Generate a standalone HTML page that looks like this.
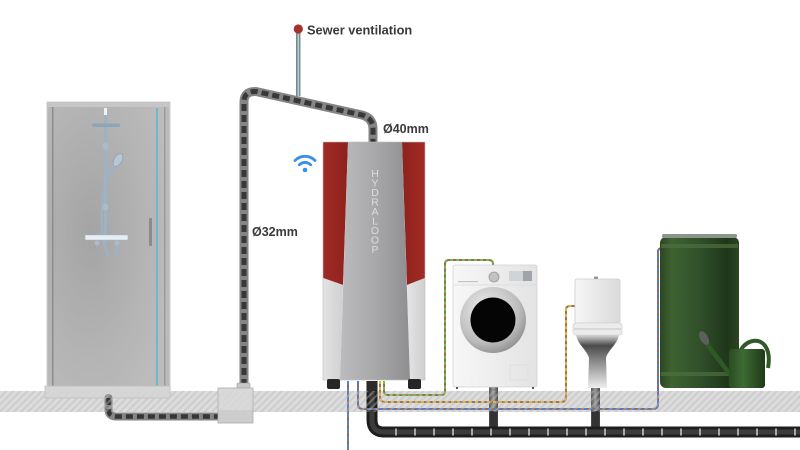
<!DOCTYPE html>
<html><head><meta charset="utf-8"><style>
html,body{margin:0;padding:0;background:#fff;}
svg{display:block;}
text{font-family:"Liberation Sans",sans-serif;}
</style></head><body>
<svg width="800" height="450" viewBox="0 0 800 450" xmlns="http://www.w3.org/2000/svg">
<defs>
<pattern id="hatch" width="5" height="5" patternUnits="userSpaceOnUse" patternTransform="rotate(45)">
<rect width="5" height="5" fill="#dcdcdc"/><rect width="2" height="5" fill="#cccccc"/>
</pattern>
<pattern id="hatch2" width="5" height="5" patternUnits="userSpaceOnUse" patternTransform="rotate(45)">
<rect width="2" height="5" fill="#d0d0d0"/>
</pattern>
<linearGradient id="silver" x1="0" x2="1" y1="0" y2="0">
<stop offset="0" stop-color="#bcbcbe"/><stop offset="0.5" stop-color="#a8a8aa"/><stop offset="1" stop-color="#8e8e90"/>
</linearGradient>
<linearGradient id="redL" x1="0" x2="1"><stop offset="0" stop-color="#a22a24"/><stop offset="1" stop-color="#8e211d"/></linearGradient>
<linearGradient id="redR" x1="0" x2="1"><stop offset="0" stop-color="#8e221e"/><stop offset="1" stop-color="#a32b25"/></linearGradient>
<linearGradient id="panelL" x1="0" x2="1"><stop offset="0" stop-color="#e4e4e4"/><stop offset="1" stop-color="#cfcfcf"/></linearGradient>
<radialGradient id="showerG" cx="0.35" cy="0.45" r="0.7">
<stop offset="0" stop-color="#a4a4a4"/><stop offset="0.6" stop-color="#b3b3b3"/><stop offset="1" stop-color="#bcbcbc"/>
</radialGradient>
<linearGradient id="green" x1="0" x2="1">
<stop offset="0" stop-color="#2b4622"/><stop offset="0.15" stop-color="#3e6231"/><stop offset="0.5" stop-color="#30502a"/><stop offset="0.85" stop-color="#1f361a"/><stop offset="1" stop-color="#2c4524"/>
</linearGradient>
<linearGradient id="canG" x1="0" x2="1">
<stop offset="0" stop-color="#2a4d22"/><stop offset="0.4" stop-color="#3d6a33"/><stop offset="1" stop-color="#1e3a18"/>
</linearGradient>
<linearGradient id="washG" x1="0" x2="1">
<stop offset="0" stop-color="#f7f7f7"/><stop offset="1" stop-color="#e3e3e3"/>
</linearGradient>
<radialGradient id="drumG" cx="0.4" cy="0.35" r="0.7">
<stop offset="0" stop-color="#f0f0f0"/><stop offset="0.7" stop-color="#bdbdbd"/><stop offset="1" stop-color="#8e8e8e"/>
</radialGradient>
<linearGradient id="tankG" x1="0" x2="1">
<stop offset="0" stop-color="#f6f6f6"/><stop offset="1" stop-color="#dadada"/>
</linearGradient>
<linearGradient id="bowlG" x1="0" x2="0" y1="0" y2="1">
<stop offset="0" stop-color="#d8d8d8"/><stop offset="0.2" stop-color="#4a4a4a"/><stop offset="0.5" stop-color="#8a8a8a"/><stop offset="1" stop-color="#eeeeee"/>
</linearGradient>
<linearGradient id="drainG" x1="0" x2="1">
<stop offset="0" stop-color="#5a5a5a"/><stop offset="0.5" stop-color="#9a9a9a"/><stop offset="1" stop-color="#4a4a4a"/>
</linearGradient>
</defs>

<!-- floor band -->
<rect x="0" y="391" width="800" height="21" fill="url(#hatch)"/>

<!-- shower -->
<rect x="47" y="102" width="123" height="288" fill="url(#showerG)" stroke="#cfcfcf" stroke-width="1"/>
<rect x="48" y="102" width="121" height="5" fill="#c6c6c6"/>
<rect x="52" y="107" width="1.5" height="280" fill="#8c8c8c"/>
<rect x="164" y="107" width="1.5" height="280" fill="#9a9a9a"/>
<line x1="157" y1="108" x2="157" y2="388" stroke="#5fb7c9" stroke-width="1.6"/>
<line x1="105.5" y1="110" x2="105.5" y2="243" stroke="#9cb2c6" stroke-width="3"/>
<rect x="104" y="108" width="3" height="7" fill="#eef3f8"/>
<rect x="92" y="123.5" width="28" height="3.5" rx="1.7" fill="#8ea5b9"/>
<ellipse cx="105.5" cy="146" rx="3" ry="3.5" fill="#a9bccd"/>
<ellipse cx="105.5" cy="207" rx="3" ry="3.5" fill="#a9bccd"/>
<ellipse cx="118" cy="160" rx="4" ry="7" transform="rotate(30 118 160)" fill="#b6c7d6" stroke="#8ea3b6" stroke-width="0.8"/>
<line x1="115" y1="166" x2="107" y2="178" stroke="#9cb2c6" stroke-width="3"/>
<path d="M107,178 C99,200 100,250 110,256 C118,259 118,250 116,240" fill="none" stroke="#9cb2c6" stroke-width="2"/>
<rect x="85" y="235" width="43" height="5" rx="1" fill="#e8eef4" stroke="#a9b6c3" stroke-width="0.6"/>
<circle cx="97" cy="243" r="2.5" fill="#a9bccd"/>
<circle cx="117" cy="243" r="2.5" fill="#a9bccd"/>
<rect x="149" y="218" width="3" height="28" rx="1" fill="#8a8a8a"/>
<rect x="45" y="386" width="125" height="12" fill="#d6d6d6" stroke="#bdbdbd" stroke-width="0.8"/>

<!-- shower drain -->
<path d="M108.5,398 L108.5,409 Q108.5,416.5 116,416.5 L219,416.5" fill="none" stroke="#858585" stroke-width="8" stroke-linecap="round"/>
<path d="M108.5,398 L108.5,409 Q108.5,416.5 116,416.5 L219,416.5" fill="none" stroke="#353535" stroke-width="4.5" stroke-dasharray="7 4"/>

<!-- vertical / top pipe -->
<path d="M244,386 L244,102 Q244,91 256,91.5 L362,115 Q373,118 373,129 L373,143" fill="none" stroke="#858585" stroke-width="9" stroke-linejoin="round"/>
<path d="M244,386 L244,102 Q244,91 256,91.5 L362,115 Q373,118 373,129 L373,143" fill="none" stroke="#383838" stroke-width="5" stroke-dasharray="7 4" stroke-linejoin="round"/>

<!-- vent -->
<rect x="296" y="30" width="4.5" height="66" fill="#7b898d"/>
<rect x="297.6" y="30" width="1.5" height="66" fill="#b3d2d6"/>
<circle cx="298.3" cy="29" r="4.6" fill="#a7302b"/>

<!-- trap box -->
<rect x="237" y="383" width="13" height="6" rx="1" fill="#c8c8c8" stroke="#999" stroke-width="0.6"/>
<rect x="218" y="388" width="35" height="35" fill="#d9d9d9" stroke="#a8a8a8" stroke-width="0.8"/>
<rect x="218.5" y="410" width="34" height="12.5" fill="#cdcdcd"/>

<!-- wifi -->
<g fill="none" stroke="#3a8fe6" stroke-width="2.8" stroke-linecap="round">
<path d="M295,160.5 A14,14 0 0 1 315,160.5"/>
<path d="M299.3,164.8 A8,8 0 0 1 310.7,164.8"/>
</g>
<circle cx="305" cy="170" r="2.3" fill="#3a8fe6"/>

<!-- HYDRALOOP unit -->
<polygon points="323,142 348,142 343,285 323,278" fill="url(#redL)"/>
<polygon points="323,278 343,285 340,380 323,380" fill="url(#panelL)"/>
<polygon points="402,142 425,142 425,278 407,285" fill="url(#redR)"/>
<polygon points="407,285 425,278 425,380 410,380" fill="url(#panelL)"/>
<polygon points="348,142 402,142 410,380 340,380" fill="url(#silver)"/>
<rect x="323" y="142" width="102" height="238" fill="none" stroke="#bdbdbd" stroke-width="0.6"/>
<rect x="327" y="379" width="13" height="10" rx="2" fill="#262626"/>
<rect x="408" y="379" width="13" height="10" rx="2" fill="#262626"/>
<g fill="#dcdcdc" font-size="10.5" text-anchor="middle">
<text x="375" y="177">H</text><text x="375" y="186.5">Y</text><text x="375" y="196">D</text>
<text x="375" y="205.5">R</text><text x="375" y="215">A</text><text x="375" y="224.5">L</text>
<text x="375" y="234">O</text><text x="375" y="243.5">O</text><text x="375" y="253">P</text>
</g>

<!-- drains from washer/toilet -->
<rect x="489" y="387" width="9" height="42" fill="url(#drainG)"/>
<rect x="489.5" y="411" width="8" height="18" rx="2" fill="#333"/>
<rect x="591" y="387" width="9" height="42" fill="url(#drainG)"/>
<rect x="591.5" y="411" width="8" height="18" rx="2" fill="#333"/>

<!-- main bottom pipe -->
<path d="M372,381 L372,420 Q372,432 384,432 L800,432" fill="none" stroke="#1e1e1e" stroke-width="11"/>
<path d="M372,381 L372,420 Q372,432 384,432 L800,432" fill="none" stroke="#3c3c3c" stroke-width="5"/>
<line x1="395" y1="432" x2="800" y2="432" stroke="#a8a8a8" stroke-width="7" stroke-dasharray="2 17"/>
<rect x="367" y="381" width="10" height="12" fill="#2a2a2a"/>

<!-- wires -->
<g fill="none" stroke-width="2">
<path d="M348,381 L348,450" stroke="#9a6a50"/>
<path d="M348,381 L348,450" stroke="#4a86e0" stroke-dasharray="4 4"/>
<path d="M358,381 L358,404 Q358,409 363,409 L653,409 Q658,409 658,404 L658,252 Q658,248 662,248" stroke="#9a6a50"/>
<path d="M358,381 L358,404 Q358,409 363,409 L653,409 Q658,409 658,404 L658,252 Q658,248 662,248" stroke="#4a7fdc" stroke-dasharray="3 3"/>
<path d="M380,381 L380,397 Q380,402 385,402 L561,402 Q566,402 566,397 L566,310 Q566,306 570,306 L576,306" stroke="#9a7258"/>
<path d="M380,381 L380,397 Q380,402 385,402 L561,402 Q566,402 566,397 L566,310 Q566,306 570,306 L576,306" stroke="#e3b23c" stroke-dasharray="3 3"/>
<path d="M384,381 L384,391 Q384,395 388,395 L441,395 Q445,395 445,391 L445,264 Q445,260 449,260 L489,260 Q493,260 493,264 L493,266" stroke="#9a6a50"/>
<path d="M384,381 L384,391 Q384,395 388,395 L441,395 Q445,395 445,391 L445,264 Q445,260 449,260 L489,260 Q493,260 493,264 L493,266" stroke="#6cc04a" stroke-dasharray="3 3"/>
</g>

<!-- washing machine -->
<rect x="453" y="265" width="84" height="122" rx="2" fill="url(#washG)" stroke="#d2d2d2" stroke-width="0.8"/>
<line x1="454" y1="285" x2="536" y2="285" stroke="#dadada" stroke-width="0.8"/>
<rect x="458" y="281" width="20" height="1.2" fill="#c4c4c4"/>
<circle cx="494" cy="277" r="5" fill="#c2c2c2" stroke="#999" stroke-width="0.8"/>
<rect x="509" y="271" width="23" height="10" fill="#cfd4d9"/>
<rect x="523" y="271" width="9" height="10" fill="#9fa4aa"/>
<circle cx="493" cy="320" r="33" fill="url(#drumG)"/>
<circle cx="493" cy="320" r="22.5" fill="#050505"/>
<rect x="510" y="365" width="18" height="15" fill="none" stroke="#dcdcdc" stroke-width="0.8"/>
<rect x="456" y="387" width="2" height="2" fill="#555"/>
<rect x="532" y="387" width="2" height="2" fill="#555"/>

<!-- toilet -->
<rect x="575" y="279" width="45" height="44" rx="2" fill="url(#tankG)" stroke="#cdcdcd" stroke-width="0.8"/>
<rect x="594" y="276.5" width="4" height="2.5" fill="#999"/>
<path d="M576,335 L619,335 C617,345 608,350 606,358 L607,388 L588,388 L589,358 C587,350 578,345 576,335 Z" fill="url(#bowlG)"/>
<rect x="573" y="323" width="49" height="12" rx="3" fill="#ececec" stroke="#c9c9c9" stroke-width="0.6"/>
<line x1="574" y1="329" x2="621" y2="329" stroke="#b9b9b9" stroke-width="0.8"/>

<!-- rain barrel -->
<rect x="660" y="237" width="79" height="151" rx="6" fill="url(#green)"/>
<rect x="662" y="234" width="75" height="4" rx="2" fill="#8c958a"/>
<rect x="661" y="244" width="77" height="4" fill="#4d6f40" opacity="0.7"/>
<rect x="661" y="372" width="77" height="4" fill="#4d6f40" opacity="0.7"/>

<!-- watering can -->
<path d="M737,370 C733,335 775,328 768,368" fill="none" stroke="#2f5a27" stroke-width="4"/>
<line x1="732" y1="377" x2="706" y2="343" stroke="#2f5a27" stroke-width="4.5"/>
<ellipse cx="704" cy="338" rx="4" ry="7.5" transform="rotate(-30 704 338)" fill="#5e5e5e"/>
<rect x="729" y="349" width="36" height="39" rx="3" fill="url(#canG)"/>

<!-- floor hatch overlay -->
<rect x="0" y="391" width="800" height="21" fill="url(#hatch2)" opacity="0.35"/>

<!-- labels -->
<g fill="#3a3a3a" font-weight="bold">
<text x="307" y="34.5" font-size="12.8">Sewer ventilation</text>
<text x="383" y="133" font-size="12.5">Ø40mm</text>
<text x="252" y="236" font-size="12.5">Ø32mm</text>
</g>
</svg>
</body></html>
